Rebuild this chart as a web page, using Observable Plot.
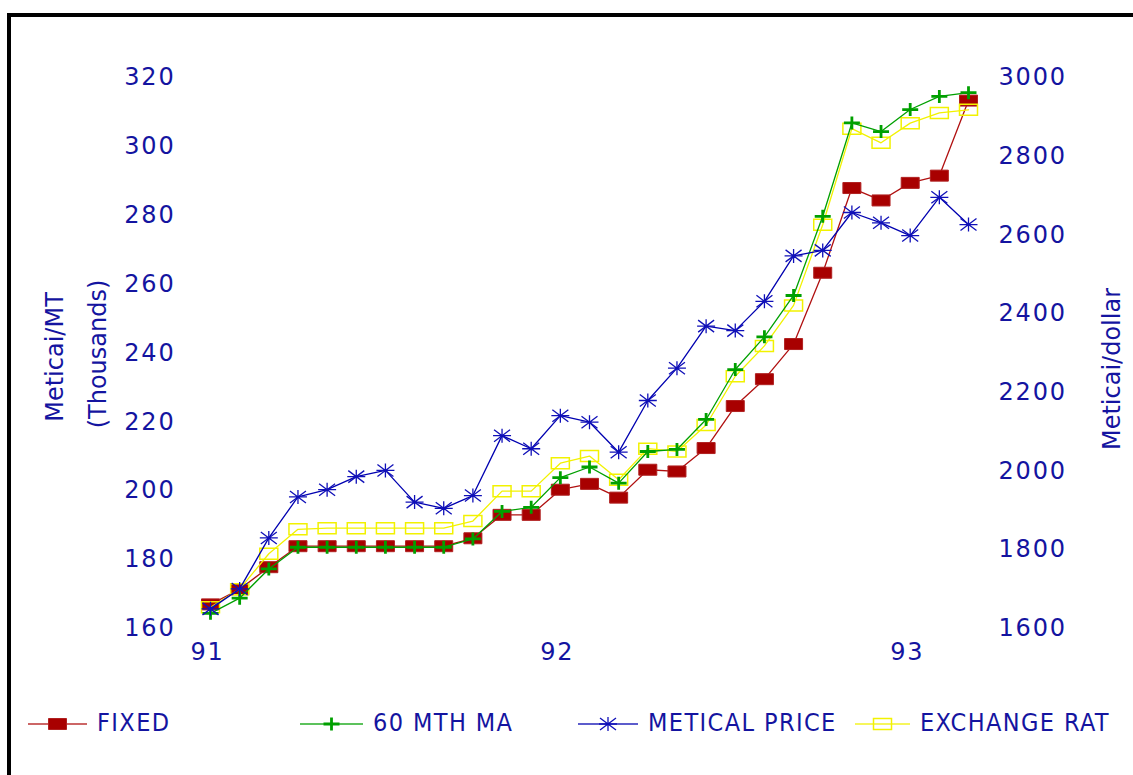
<!DOCTYPE html>
<html>
<head>
<meta charset="utf-8">
<script src="https://cdn.jsdelivr.net/npm/d3@7"></script>
<script src="https://cdn.jsdelivr.net/npm/@observablehq/plot@0.6"></script>
<style>
  html, body { margin: 0; padding: 0; background: #fff; width: 1133px; height: 775px; overflow: hidden; }
  #frame { position: absolute; left: 7px; top: 13px; width: 1126px; height: 762px;
           border-left: 4px solid #000; border-top: 4px solid #000; box-sizing: border-box; }
  #chart { position: absolute; left: 0; top: 0; }
  #legend { position: absolute; left: 0; top: 690px; width: 1122px; height: 40px;
            font-family: "DejaVu Sans Condensed", "DejaVu Sans", sans-serif; font-stretch: condensed;
            font-size: 25px; color: #1414a0; letter-spacing: 1.4px; }
  #legend svg { position: absolute; top: 6px; }
  #legend span { position: absolute; top: 2px; white-space: nowrap; line-height: 28px; }
</style>
</head>
<body>
<div id="frame">
  <div id="chart"></div>
  <div id="legend"></div>
</div>
<script>
// ---- data ----
const months = ["1991-01","1991-02","1991-03","1991-04","1991-05","1991-06","1991-07","1991-08","1991-09",
  "1991-10","1991-11","1991-12","1992-01","1992-02","1992-03","1992-04","1992-05","1992-06","1992-07",
  "1992-08","1992-09","1992-10","1992-11","1992-12","1993-01","1993-02","1993-03"];

// Meticai/MT (thousands) — left axis
const fixed = [167.0, 171.4, 177.8, 183.9, 183.9, 183.9, 183.9, 183.9, 183.9, 186.2, 193.0, 193.0,
  200.3, 202.0, 198.0, 206.1, 205.6, 212.4, 224.6, 232.4, 242.6, 263.3, 287.9, 284.3, 289.4, 291.5, 313.3];
const ma60 = [164.4, 168.8, 177.3, 183.6, 183.6, 183.6, 183.6, 183.6, 183.6, 186.0, 194.0, 195.2,
  203.8, 206.9, 202.2, 211.4, 212.0, 220.7, 235.2, 244.7, 256.7, 279.7, 306.8, 304.3, 310.7, 314.5, 315.6];
const meticalPrice = [165.7, 171.5, 186.3, 198.2, 200.3, 204.1, 205.9, 196.7, 194.9, 198.6, 216.0, 212.2,
  221.8, 219.9, 211.2, 226.2, 235.6, 247.8, 246.5, 255.0, 268.2, 269.8, 280.8, 277.8, 274.1, 285.2, 277.3];
// Meticai/dollar — right axis
const exchangeRate = [1654, 1700, 1790, 1852, 1855, 1855, 1855, 1855, 1855, 1873, 1949, 1949,
  2020, 2038, 1978, 2057, 2050, 2117, 2241, 2318, 2421, 2626, 2870, 2834, 2884, 2910, 2918];

const leftTicks = [160, 180, 200, 220, 240, 260, 280, 300, 320];
const rightTicks = [1600, 1800, 2000, 2200, 2400, 2600, 2800, 3000];
const xTicks = [1991, 1992, 1993];
const xTickLabels = ["91", "92", "93"];
const seriesNames = ["FIXED", "60 MTH MA", "METICAL PRICE", "EXCHANGE RAT"];

// ---- helpers ----
const toYear = s => +s.slice(0, 4) + (+s.slice(5, 7) - 1) / 12;
const rightToLeft = d3.scaleLinear([1600, 3000], [160, 320]);
const rows = vals => months.map((m, i) => ({x: toYear(m), y: vals[i]}));

const ink = "#1414a0";
const rectSym = {draw(c) { c.moveTo(-9, -5.5); c.lineTo(9, -5.5); c.lineTo(9, 5.5); c.lineTo(-9, 5.5); c.closePath(); }};
const plusSym = {draw(c) { c.moveTo(-8, 0); c.lineTo(8, 0); c.moveTo(0, -6.5); c.lineTo(0, 6.5); }};
const starSym = {draw(c) {
  c.moveTo(-9, 0); c.lineTo(9, 0); c.moveTo(0, -7); c.lineTo(0, 7);
  c.moveTo(-8, -6); c.lineTo(8, 6); c.moveTo(-8, 6); c.lineTo(8, -6); }};

const series = [
  {name: seriesNames[0], data: rows(fixed), line: "#b01010", sym: rectSym, fill: "#a80000", stroke: "#b02020", sw: 1},
  {name: seriesNames[3], data: rows(exchangeRate.map(v => rightToLeft(v))), line: "#f2f200", sym: rectSym, fill: "none", stroke: "#f2f200", sw: 1.5},
  {name: seriesNames[1], data: rows(ma60), line: "#00a000", sym: plusSym, fill: "none", stroke: "#00a000", sw: 2.8},
  {name: seriesNames[2], data: rows(meticalPrice), line: "#0000b0", sym: starSym, fill: "none", stroke: "#1010b8", sw: 1.3}
];

const marks = [];
for (const s of series) {
  marks.push(Plot.line(s.data, {x: "x", y: "y", stroke: s.line, strokeWidth: 1.3}));
  marks.push(Plot.dot(s.data, {x: "x", y: "y", symbol: s.sym, fill: s.fill, stroke: s.stroke, strokeWidth: s.sw, r: 5}));
}

const txt = {fill: ink, fontFamily: "DejaVu Sans, sans-serif", fontSize: 24};

const chart = Plot.plot({
  width: 1122,
  height: 680,
  marginLeft: 170,
  marginRight: 141,
  marginTop: 60,
  marginBottom: 69,
  x: {domain: [1991, 1993 + 2 / 12], range: [199, 957], axis: null},
  y: {domain: [160, 320], range: [611, 60], axis: null},
  style: {background: "white", fontFamily: "DejaVu Sans, sans-serif", overflow: "visible"},
  marks: [
    // left tick labels
    Plot.text(leftTicks, {...txt, y: d => d, frameAnchor: "left", textAnchor: "end", dx: -6, text: d => String(d), lineAnchor: "middle", className: "tick"}),
    // right tick labels
    Plot.text(rightTicks, {...txt, y: d => rightToLeft(d), frameAnchor: "right", textAnchor: "start", dx: 6, text: d => String(d), lineAnchor: "middle", className: "tick"}),
    // x tick labels
    Plot.text(xTicks, {...txt, x: d => d, y: () => 160, dy: 24, dx: -3, text: (d, i) => xTickLabels[i], lineAnchor: "middle", className: "tick"}),
    // axis titles
    Plot.text(["Meticai/MT"], {...txt, frameAnchor: "left", textAnchor: "middle", rotate: -90, dx: -126, dy: 4, text: d => d, lineAnchor: "middle"}),
    Plot.text(["(Thousands)"], {...txt, frameAnchor: "left", textAnchor: "middle", rotate: -90, dx: -83, dy: 1, text: d => d, lineAnchor: "middle"}),
    Plot.text(["Meticai/dollar"], {...txt, frameAnchor: "right", textAnchor: "middle", rotate: -90, dx: 120, dy: 16, text: d => d, lineAnchor: "middle"}),
    ...marks
  ]
});
chart.querySelectorAll("g.tick text, .tick text").forEach(t => t.style.letterSpacing = "1.8px");
document.getElementById("chart").appendChild(chart);

// ---- legend (HTML below the SVG) ----
const legendOrder = [
  {s: series[0], lx: 17, tx: 86},
  {s: series[2], lx: 289, tx: 362},
  {s: series[3], lx: 567, tx: 637},
  {s: series[1], lx: 844, tx: 909}
];
const legend = d3.select("#legend");
for (const {s, lx, tx} of legendOrder) {
  const w = tx - lx - 10;
  const svg = legend.append("svg").attr("width", w).attr("height", 22).style("left", lx + "px");
  svg.append("line").attr("x1", 0).attr("x2", w).attr("y1", 11).attr("y2", 11)
    .attr("stroke", s.line).attr("stroke-width", 1.5).attr("opacity", 0.85);
  svg.append("path").attr("d", d3.symbol(s.sym)()).attr("transform", `translate(${w / 2},11)`)
    .attr("fill", s.fill).attr("stroke", s.stroke).attr("stroke-width", s.sw);
  legend.append("span").style("left", tx + "px").text(s.name);
}
</script>
</body>
</html>
